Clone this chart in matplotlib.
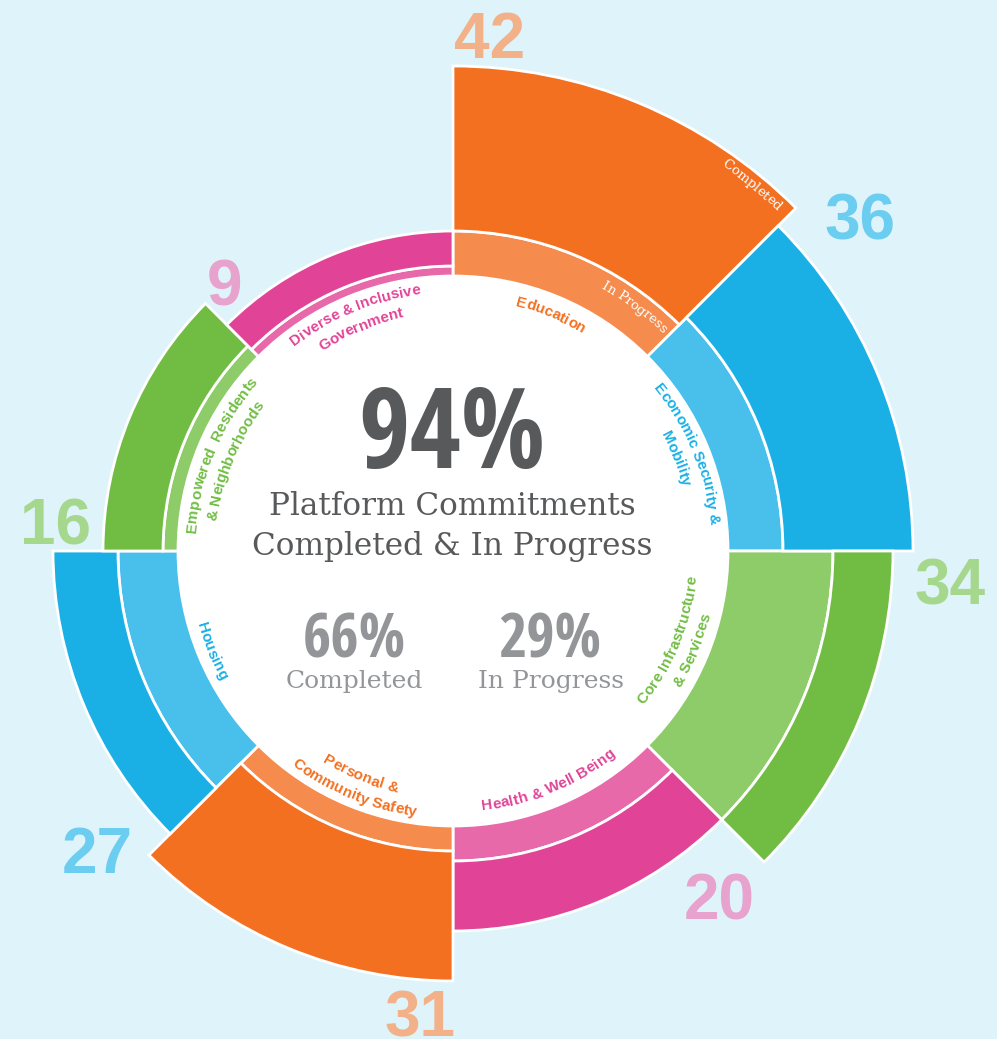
import numpy as np
import matplotlib
matplotlib.use("Agg")
import matplotlib.pyplot as plt
from matplotlib.font_manager import FontProperties, fontManager
from matplotlib.textpath import TextToPath

# clockwise from 12 o'clock, one 45 degree slice each
categories = [
    "Education",
    "Economic Security &\nMobility",
    "Core Infrastructure\n& Services",
    "Health & Well Being",
    "Personal &\nCommunity Safety",
    "Housing",
    "Empowered  Residents\n& Neighborhoods",
    "Diverse & Inclusive\nGovernment",
]
totals = [42, 36, 34, 20, 31, 27, 16, 9]
in_progress = [9, 11, 21, 7, 5, 12, 3, 2]
completed = [33, 26, 12, 14, 26, 13, 12, 7]

headline = "94%"
headline_text = "Platform Commitments\nCompleted & In Progress"
completed_pct = "66%"
progress_pct = "29%"

completed_colors = ["#f37021", "#1ab0e6", "#71bd44", "#e14497"] * 2
progress_colors = ["#f58b4c", "#48c0eb", "#8ecb69", "#e869a9"] * 2
label_colors = ["#f37021", "#1ab0e6", "#71bd44", "#e14497"] * 2
number_colors = ["#f2b189", "#6bcdf0", "#a5d88c", "#e7a2cd"] * 2
BG = "#dff3fa"

# where the outside numbers sit (deg clockwise from north, radius in px)
number_ang = [4.1, 50.5, 93.5, 142.3, 184.1, 230.0, 274.3, 319.7]
number_r = [518, 527, 498, 436, 463, 465, 399, 353]
label_r = [257, 252, 251, 257, 254, 262, 252, 253]

DPI = 100
W, H = 997, 1039
CX, CY = 453, 551
R0 = 275      # inner white circle
S = 5.0       # px per commitment
RMAX = 560


def pick_condensed():
    # a narrow bold face for the big percentages, if one is installed
    for f in fontManager.ttflist:
        if f.name in ("Liberation Sans Narrow", "Roboto Condensed", "Open Sans Condensed") \
                and f.weight in (700, "bold"):
            return FontProperties(fname=f.fname), True
    for f in fontManager.ttflist:
        if "ondensed" in str(f.stretch) and f.weight in (700, "bold") \
                and any(k in f.name for k in ("DejaVu Sans", "Roboto", "Open Sans", "Noto Sans")) \
                and "Mono" not in f.name and "CJK" not in f.name:
            return FontProperties(fname=f.fname), True
    return FontProperties(family="Liberation Sans", weight="bold"), False


big_prop, is_narrow = pick_condensed()

ttp = TextToPath()


def adv(s, prop):
    a = ttp.get_text_width_height_descent("l" + s + "l", prop, ismath=False)[0]
    b = ttp.get_text_width_height_descent("ll", prop, ismath=False)[0]
    return (a - b) * DPI / 72.0


def arc_text(ax, text, ang, r, prop, color, spacing=20):
    upper = np.cos(np.radians(ang)) >= 0
    lines = text.split("\n")
    n = len(lines)
    for i, line in enumerate(lines):
        off = ((n - 1) / 2 - i) * spacing
        rr = r + off if upper else r - off
        total = adv(line, prop)
        for j, ch in enumerate(line):
            if ch == " ":
                continue
            mid = (adv(line[:j], prop) + adv(line[:j + 1], prop)) / 2 - total / 2
            d = np.degrees(mid / rr)
            a = ang + d if upper else ang - d
            rot = -a if upper else 180 - a
            ax.text(np.radians(a), rr, ch, rotation=rot, rotation_mode="anchor",
                    ha="center", va="center", fontproperties=prop, color=color)


def fx(x):
    return x / W


def fy(y):
    return 1 - y / H


fig = plt.figure(figsize=(W / DPI, H / DPI), dpi=DPI, facecolor=BG)
ax = fig.add_axes([(CX - RMAX) / W, (H - CY - RMAX) / H, 2 * RMAX / W, 2 * RMAX / H],
                  projection="polar")
ax.set_theta_zero_location("N")
ax.set_theta_direction(-1)
ax.set_ylim(0, RMAX)
ax.set_axis_off()

theta = np.radians(np.arange(len(categories)) * 45)
ip = np.array(in_progress) * S
cp = np.array(completed) * S

ax.bar(0, R0, width=2 * np.pi, bottom=0, color="white", linewidth=0, align="edge")
ax.bar(theta, ip, width=np.pi / 4, bottom=R0, color=progress_colors,
       edgecolor="white", linewidth=2, align="edge")
ax.bar(theta, cp, width=np.pi / 4, bottom=R0 + ip, color=completed_colors,
       edgecolor="white", linewidth=2, align="edge")

label_prop = FontProperties(family="Liberation Sans", weight="bold", size=11)
for i, cat in enumerate(categories):
    arc_text(ax, cat, 22.5 + 45 * i, label_r[i], label_prop, label_colors[i])

small_serif = FontProperties(family="DejaVu Serif", size=9.5)
arc_text(ax, "Completed", 39.2, 473, small_serif, "white")
arc_text(ax, "In Progress", 36.6, 305, small_serif, "white")

for i, t in enumerate(totals):
    ax.text(np.radians(number_ang[i]), number_r[i], str(t), ha="center", va="center_baseline",
            family="Liberation Sans", weight="bold", fontsize=46, color=number_colors[i])

big = big_prop.copy()
big.set_size(80 if is_narrow else 72)
fig.text(fx(452), fy(468), headline, ha="center", va="baseline", fontproperties=big,
         color="#58595b")
l1, l2 = headline_text.split("\n")
fig.text(fx(452), fy(515), l1, ha="center", va="baseline", family="DejaVu Serif",
         fontsize=22.4, color="#58595b")
fig.text(fx(452), fy(555), l2, ha="center", va="baseline", family="DejaVu Serif",
         fontsize=22.4, color="#58595b")

mid = big_prop.copy()
mid.set_size(44 if is_narrow else 41)
fig.text(fx(354), fy(657), completed_pct, ha="center", va="baseline", fontproperties=mid,
         color="#939598")
fig.text(fx(550), fy(657), progress_pct, ha="center", va="baseline", fontproperties=mid,
         color="#939598")
fig.text(fx(354), fy(688), "Completed", ha="center", va="baseline", family="DejaVu Serif",
         fontsize=18, color="#939598")
fig.text(fx(551), fy(688), "In Progress", ha="center", va="baseline", family="DejaVu Serif",
         fontsize=18, color="#939598")

fig.savefig("out.png", dpi=DPI, facecolor=BG)
